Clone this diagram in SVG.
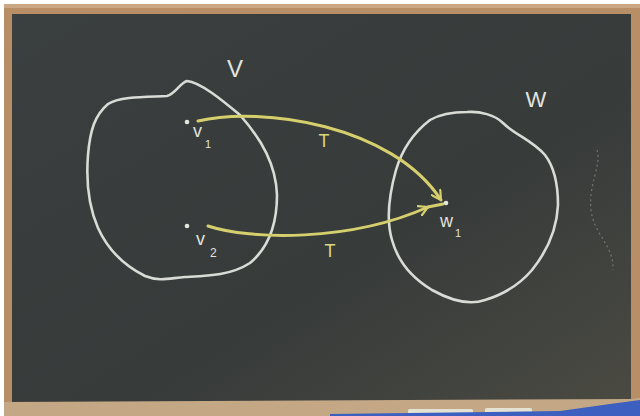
<svg xmlns="http://www.w3.org/2000/svg" width="640" height="416" viewBox="0 0 640 416">
<style>
.chalk{fill:none;stroke:#d9dbd6;stroke-width:2.6;stroke-linecap:round;stroke-linejoin:round}
.ytxt{fill:#dcd67c;font-family:"Liberation Sans",sans-serif}
.wtxt{fill:#e2e3de;font-family:"Liberation Sans",sans-serif}
.arrow{fill:none;stroke:#d6cf6e;stroke-width:3;stroke-linecap:round}
.dot{fill:#e6e6e0}
</style>
<defs>
<linearGradient id="board" x1="0" y1="0" x2="1" y2="1">
<stop offset="0" stop-color="#3a3f3f"/>
<stop offset="0.6" stop-color="#373b3a"/>
<stop offset="1" stop-color="#4a4a42"/>
</linearGradient>
<marker id="head" viewBox="0 0 12 12" refX="10" refY="6" markerWidth="4" markerHeight="4" orient="auto" markerUnits="strokeWidth">
<path d="M1,1 L10,6 L1,11" fill="none" stroke="#d6cf6e" stroke-width="2.2" stroke-linecap="round" stroke-linejoin="round"/>
</marker>
</defs>
<rect x="0" y="0" width="640" height="416" fill="#ffffff"/>
<rect x="4" y="4" width="636" height="412" fill="#b88e66"/>
<rect x="4" y="4" width="636" height="4" fill="#caa684"/>
<rect x="12" y="14" width="619" height="388" fill="url(#board)"/>
<polygon points="4,402 631,399 640,398 640,416 4,416" fill="#c4a886"/>
<rect x="408" y="409" width="65" height="5" rx="1.5" fill="#e4e2d2"/>
<rect x="485" y="408" width="47" height="5" rx="1.5" fill="#e4e2d2"/>
<polygon points="330,416 330,414 560,411 610,404 640,400 640,416" fill="#3c5fc0"/>
<path d="M597,150 C602,165 588,185 591,210 C594,235 614,245 613,270" fill="none" stroke="#8a8c86" stroke-width="1.2" stroke-dasharray="2 3" opacity="0.7"/>
<g id="V">
<path class="chalk" d="M187,81 C200,82 222,100 240,115 C262,140 276,165 277,195 C277,225 268,248 250,263 C230,276 205,276 185,277 C170,278 160,282 145,276 C125,266 108,250 98,228 C88,205 86,180 88,155 C90,130 95,115 108,104 C120,96 150,97 167,96 C175,94 180,83 187,81 Z"/>
<text class="wtxt" x="235" y="77" font-size="24" text-anchor="middle">V</text>
</g>
<g id="W">
<path class="chalk" d="M467,112 C455,112 442,113 430,120 C413,133 402,150 396,170 C389,195 386,220 392,240 C398,262 412,278 432,290 C450,300 468,306 485,300 C505,294 520,284 532,270 C548,250 557,228 558,205 C558,185 555,168 545,155 C532,140 515,135 503,123 C495,115 480,111 467,112 Z"/>
<text class="wtxt" x="536" y="107" font-size="22" text-anchor="middle">W</text>
</g>
<g id="v1">
<circle class="dot" cx="187" cy="122" r="2.3"/>
<text class="wtxt" x="193" y="137" font-size="18">v</text>
<text class="wtxt" x="205" y="148" font-size="11">1</text>
</g>
<g id="v2">
<circle class="dot" cx="187" cy="226" r="2.3"/>
<text class="wtxt" x="196" y="245" font-size="18">v</text>
<text class="wtxt" x="210" y="257" font-size="12">2</text>
</g>
<g id="w1">
<circle class="dot" cx="446" cy="203" r="2.3"/>
<text class="wtxt" x="440" y="227" font-size="18">w</text>
<text class="wtxt" x="455" y="237" font-size="11">1</text>
</g>
<g id="connectors">
<path class="arrow" d="M198,121 C262,106 392,125 441,200" marker-end="url(#head)"/>
<path class="arrow" d="M208,226 C250,240 350,242 428,207" marker-end="url(#head)"/>
<path class="arrow" d="M428,207 L443,204"/>
<text class="ytxt" x="324" y="147" font-size="18" text-anchor="middle">T</text>
<text class="ytxt" x="330" y="257" font-size="18" text-anchor="middle">T</text>
</g>
</svg>
